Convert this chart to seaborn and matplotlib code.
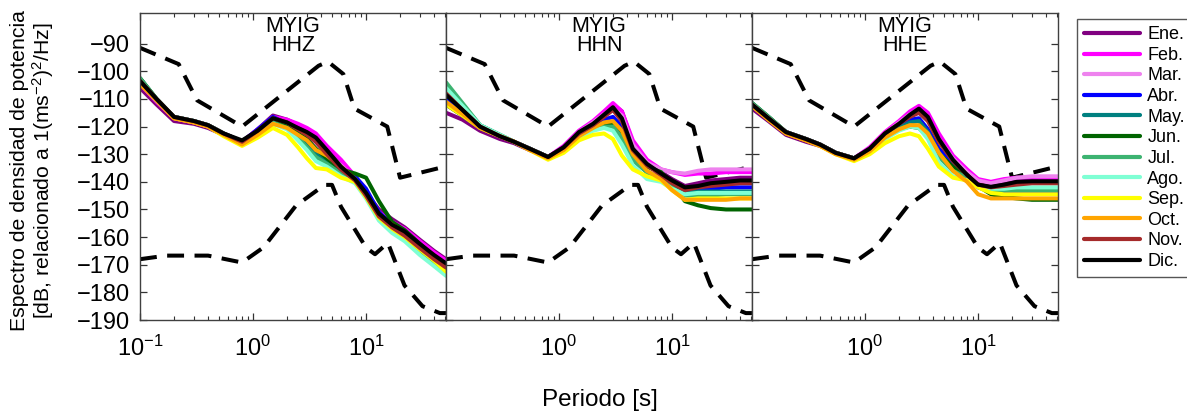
import numpy as np
import pandas as pd
import matplotlib
matplotlib.use("Agg")
import matplotlib.pyplot as plt
import seaborn as sns
from matplotlib.lines import Line2D
from matplotlib.ticker import FixedLocator, LogLocator, NullFormatter, FuncFormatter

# ---------------- data ----------------
MONTHS = ["Ene.", "Feb.", "Mar.", "Abr.", "May.", "Jun.", "Jul.", "Ago.", "Sep.", "Oct.", "Nov.", "Dic."]
COLORS = ["#800080", "#ff00ff", "#ee82ee", "#0000ff", "#008080", "#006400",
          "#3cb371", "#7fffd4", "#ffff00", "#ffa500", "#a52a2a", "#000000"]
COMPONENTS = ["HHZ", "HHN", "HHE"]
STATION = "MYIG"

PERIODS = [0.1, 0.14, 0.2, 0.3, 0.4, 0.55, 0.8, 1.1, 1.5, 2.0, 2.5, 3.0, 3.6, 4.5,
           6, 8, 10, 13, 17, 22, 30, 40, 51]

# HHZ
HHZ_ENE = [-106, -112, -118, -119, -120.5, -123, -125.5, -121, -116, -117.5, -119.5, -121, -123, -127.5, -133, -138.5, -144, -150, -153.5, -156.5, -161, -165, -168]
HHZ_FEB = [-104.5, -111, -117, -118.5, -120, -123, -125.5, -121, -116.5, -117.5, -119, -120.5, -122.5, -127, -132, -138, -144, -151, -154.5, -157, -161.5, -165.5, -168.5]
HHZ_MAR = [-104, -110.5, -116.5, -118, -119.5, -122.5, -125.5, -121.5, -117, -119, -121.5, -123.5, -126, -129.5, -134, -139, -144.5, -151.5, -155.5, -158.5, -163, -167, -170]
HHZ_ABR = [-104, -110.5, -116.5, -118, -119.5, -122.5, -125.5, -121, -116.5, -119, -122.5, -125.5, -128.5, -131.5, -135, -138, -142.5, -151, -155.5, -158, -163, -167, -170.5]
HHZ_MAY = [-102.5, -110, -116.5, -118, -119.5, -122.5, -125.5, -122, -118, -120, -123.5, -126.5, -129.5, -132.5, -136, -139, -145, -152.5, -156.5, -159.5, -164, -168, -171.5]
HHZ_JUN = [-102.5, -110, -116.5, -118, -119.5, -122.5, -125.5, -122, -118, -120, -122.5, -124.5, -128, -131.5, -135.5, -137, -138.5, -147, -154.5, -157.5, -162.5, -167, -170.5]
HHZ_JUL = [-102.5, -110, -116.5, -118, -119.5, -122.5, -126, -122.5, -118.5, -120.5, -124, -127.5, -131, -133.5, -137, -139.5, -145, -153, -157, -160, -165, -169, -172.5]
HHZ_AGO = [-104, -110.5, -116.5, -118, -119.5, -122.5, -126, -123, -119, -121, -125, -128.5, -132.5, -134.5, -138, -140.5, -146, -154, -158.5, -161.5, -166.5, -170.5, -174]
HHZ_SEP = [-104.5, -110.5, -117, -118.5, -120, -123.5, -127, -124, -120.5, -123, -127.5, -131.5, -135, -135.5, -138.5, -140, -145.5, -153, -157, -160, -164.5, -168.5, -172.5]
HHZ_OCT = [-104.5, -110.5, -117, -118.5, -120, -123, -126.5, -123, -119, -120.5, -123, -125, -128.5, -130.5, -134.5, -139, -145, -152, -155.5, -158.5, -163, -167.5, -171]
HHZ_NOV = [-103.5, -110, -116.5, -118, -119.5, -122.5, -125.5, -121.5, -117, -118.5, -121, -123, -125.5, -130, -135.5, -139.5, -145, -152.5, -156.5, -159.5, -164, -168, -171]
HHZ_DIC = [-103.5, -110, -116.5, -118, -119.5, -122.5, -125, -121.5, -117, -118.5, -120.5, -122, -124, -128.5, -134.5, -139, -144, -151.5, -155.5, -158, -162.5, -166.5, -169.5]

# HHN
HHN_ENE = [-115, -117.5, -121.5, -124.5, -126, -128.5, -131, -127.5, -122, -118.5, -115, -112, -114.5, -126, -132.5, -136.5, -139, -141.5, -140.5, -139.5, -139, -138.5, -138.5]
HHN_FEB = [-112, -116, -120.5, -123.5, -125.5, -128, -131, -127, -121.5, -118, -114.5, -111.5, -114.5, -125, -132, -135.5, -136.5, -137.5, -137, -137, -136.5, -136.5, -136.5]
HHN_MAR = [-112, -115.5, -120.5, -123.5, -125.5, -128, -131, -127.5, -122, -118.5, -115.5, -113.5, -116, -126.5, -133, -135.5, -136.5, -137, -136, -135.5, -135.5, -135.5, -135.5]
HHN_ABR = [-110, -115, -120.5, -123.5, -125.5, -128, -131, -127.5, -122.5, -119.5, -117.5, -116.5, -120, -129.5, -134, -137, -140.5, -143, -142.5, -142.5, -142, -142, -142]
HHN_MAY = [-105, -112, -119.5, -123, -125.5, -128, -131, -128, -123.5, -121, -119.5, -119.5, -124, -132, -136.5, -138.5, -141, -144, -143.5, -143.5, -143.5, -143.5, -143.5]
HHN_JUN = [-112, -116, -120.5, -123.5, -125.5, -128, -131, -128, -123.5, -121, -119.5, -119, -122.5, -130, -134.5, -136.5, -140.5, -147, -148.5, -149.5, -150, -150, -150]
HHN_JUL = [-104, -111.5, -119.5, -123, -125.5, -128, -131, -128, -123.5, -121, -120, -120, -124, -132, -136.5, -139, -142, -145, -145, -145, -144.5, -144.5, -144.5]
HHN_AGO = [-106, -112.5, -119.5, -123, -125.5, -128, -131, -128.5, -124, -121.5, -120.5, -121.5, -126.5, -134, -139, -140, -142.5, -144.5, -144, -144, -144, -144, -144]
HHN_SEP = [-112, -116, -120.5, -123.5, -125.5, -128.5, -132, -129.5, -125, -123, -122.5, -124.5, -130.5, -135.5, -138, -139.5, -143, -146.5, -146, -146, -146, -146, -146]
HHN_OCT = [-111, -115.5, -120.5, -123.5, -125.5, -128.5, -131.5, -128.5, -123.5, -120.5, -118.5, -118, -121.5, -130, -136, -139, -143, -146.5, -146.5, -146.5, -146.5, -146, -146]
HHN_NOV = [-108, -114, -120, -123.5, -125.5, -128, -131, -127.5, -122.5, -119.5, -116.5, -114, -118, -128.5, -134, -137.5, -140.5, -143, -142, -141.5, -141, -140.5, -140.5]
HHN_DIC = [-108.5, -114, -120, -123.5, -125.5, -128, -131, -127.5, -122, -119, -115.7, -113, -117, -128, -133.5, -137, -139.5, -142, -141.5, -140.5, -140, -139.5, -139.5]

# HHE
HHE_ENE = [-113.5, -118, -123, -125.5, -127, -129.5, -131.5, -128, -122.5, -118.5, -115, -113, -116, -124, -131.5, -137, -140, -141, -140.5, -140, -139.5, -139.5, -139.5]
HHE_FEB = [-112.5, -117, -122, -124.5, -126.5, -129.5, -131.5, -127.5, -122, -118, -114.5, -112.5, -115, -122.5, -130.5, -135.5, -139, -140, -139, -138.5, -138.5, -138.5, -138.5]
HHE_MAR = [-112, -117, -122, -124.5, -126.5, -129.5, -131.5, -128, -122.5, -118.5, -115.5, -114, -117, -124.5, -131.5, -136.5, -139.5, -140.5, -139.5, -138.5, -138, -138, -138]
HHE_ABR = [-112, -117, -122, -124.5, -126.5, -129.5, -131.5, -128, -123, -119.5, -117.5, -117, -121, -128, -133.5, -137.5, -142, -143.5, -144, -144, -143.5, -143.5, -143.5]
HHE_MAY = [-111.5, -116.5, -122, -124.5, -126.5, -129.5, -131.5, -128.5, -123.5, -120.5, -118.5, -118, -122, -129.5, -135, -138, -141.5, -143, -143, -142.5, -142.5, -142.5, -142.5]
HHE_JUN = [-111.5, -116.5, -122, -124.5, -126.5, -129.5, -131.5, -128.5, -124, -121, -120, -120.5, -123.5, -130, -134.5, -137.5, -141.5, -144.5, -145.5, -146, -146.5, -146.5, -146.5]
HHE_JUL = [-111.5, -116.5, -122, -124.5, -126.5, -129.5, -131.5, -128.5, -124, -121, -119.5, -120, -124, -131, -136, -138.5, -141.5, -143, -143, -143, -143, -143, -143]
HHE_AGO = [-112, -117, -122, -124.5, -126.5, -129.5, -131.5, -129, -124.5, -121.5, -120, -120.5, -124.5, -133, -138, -139.5, -141.5, -142.5, -142.5, -142, -142, -142, -142]
HHE_SEP = [-112.5, -117.5, -122.5, -125, -127, -130, -132.5, -130, -126, -123.5, -122.5, -123.5, -128, -134.5, -138.5, -139.5, -142, -144, -144.5, -144.5, -144.5, -144.5, -144.5]
HHE_OCT = [-112.5, -117.5, -122.5, -125, -127, -130, -132, -129, -124, -121, -119.5, -119.5, -122.5, -129.5, -136, -140, -144.5, -146, -146, -146, -146, -146, -146]
HHE_NOV = [-112, -117, -122, -124.5, -126.5, -129.5, -131.5, -128, -122.5, -119, -116.5, -115, -118, -125.5, -132.5, -137.5, -141, -142, -141.5, -141, -140.5, -140.5, -140.5]
HHE_DIC = [-112, -117, -122, -124.5, -126.5, -129.5, -131.5, -128, -122.5, -119, -115.7, -113.5, -116.5, -124.5, -132, -137.5, -141, -141.8, -141, -140, -139.8, -139.8, -139.8]

# Peterson noise models (breakpoints)
NHNM_PERIOD = [0.1, 0.22, 0.32, 0.8, 3.8, 4.6, 6.3, 7.9, 15.4, 20, 51]
NHNM_DB = [-91.5, -97.4, -110.5, -120.0, -98.0, -96.5, -101.0, -113.5, -120.0, -138.5, -134.4]
NLNM_PERIOD = [0.1, 0.17, 0.4, 0.8, 1.24, 2.4, 4.3, 5.0, 6.0, 10, 12, 15.6, 21.9, 31.6, 45, 51]
NLNM_DB = [-168.0, -166.7, -166.7, -169.2, -163.7, -148.6, -141.1, -141.1, -149.0, -163.8, -166.2, -162.1, -177.5, -185.0, -187.5, -187.5]

SERIES = {
    "HHZ": [HHZ_ENE, HHZ_FEB, HHZ_MAR, HHZ_ABR, HHZ_MAY, HHZ_JUN, HHZ_JUL, HHZ_AGO, HHZ_SEP, HHZ_OCT, HHZ_NOV, HHZ_DIC],
    "HHN": [HHN_ENE, HHN_FEB, HHN_MAR, HHN_ABR, HHN_MAY, HHN_JUN, HHN_JUL, HHN_AGO, HHN_SEP, HHN_OCT, HHN_NOV, HHN_DIC],
    "HHE": [HHE_ENE, HHE_FEB, HHE_MAR, HHE_ABR, HHE_MAY, HHE_JUN, HHE_JUL, HHE_AGO, HHE_SEP, HHE_OCT, HHE_NOV, HHE_DIC],
}

rows = []
for comp in COMPONENTS:
    for month, vals in zip(MONTHS, SERIES[comp]):
        for p, v in zip(PERIODS, vals):
            rows.append((comp, month, p, v))
df = pd.DataFrame(rows, columns=["comp", "month", "period", "psd"])
noise_hi = pd.DataFrame({"period": NHNM_PERIOD, "psd": NHNM_DB})
noise_lo = pd.DataFrame({"period": NLNM_PERIOD, "psd": NLNM_DB})

# ---------------- style ----------------
sns.set_theme(style="ticks")
plt.rcParams["font.family"] = ["Liberation Sans", "DejaVu Sans"]
plt.rcParams["mathtext.fontset"] = "custom"
plt.rcParams["mathtext.rm"] = "Liberation Sans"
plt.rcParams["mathtext.it"] = "Liberation Sans:italic"
plt.rcParams["mathtext.bf"] = "Liberation Sans:bold"
plt.rcParams["text.color"] = "black"
plt.rcParams["axes.labelcolor"] = "black"
plt.rcParams["xtick.color"] = "black"
plt.rcParams["ytick.color"] = "black"

palette = dict(zip(MONTHS, COLORS))

W, H = 1187, 415
fig = plt.figure(figsize=(W / 100, H / 100), dpi=100)
lefts = [140, 446, 752]
ax_w = 306
ax_top, ax_bot = 13, 320

axes = []
for i, comp in enumerate(COMPONENTS):
    ax = fig.add_axes([lefts[i] / W, 1 - ax_bot / H, ax_w / W, (ax_bot - ax_top) / H])
    axes.append(ax)
    ax.set_xscale("log")

    for nd in (noise_hi, noise_lo):
        sns.lineplot(data=nd, x="period", y="psd", color="black", linewidth=2.9,
                     estimator=None, ax=ax, zorder=1)
        ax.lines[-1].set_dashes((4.2, 2.6))
        ax.lines[-1].set_dash_capstyle("butt")

    sub = df[df["comp"] == comp]
    sns.lineplot(data=sub, x="period", y="psd", hue="month", hue_order=MONTHS,
                 palette=palette, estimator=None, linewidth=2.9, legend=False,
                 ax=ax, zorder=2)
    for ln in ax.lines[2:]:
        ln.set_solid_joinstyle("round")
        ln.set_solid_capstyle("round")

    ax.set_xlim(0.1, 51)
    ax.set_ylim(-190, -78.9)
    ax.set_xlabel("")
    ax.set_ylabel("")
    ax.yaxis.set_major_locator(FixedLocator(np.arange(-190, -89, 10)))
    if i == 0:
        ax.xaxis.set_major_locator(FixedLocator([0.1, 1, 10]))
    else:
        ax.xaxis.set_major_locator(FixedLocator([1, 10]))
    ax.xaxis.set_minor_locator(LogLocator(base=10, subs=np.arange(2, 10)))
    ax.xaxis.set_minor_formatter(NullFormatter())
    ax.xaxis.set_major_formatter(FuncFormatter(
        lambda v, pos: r"$\mathdefault{10^{%d}}$" % int(round(np.log10(v)))))
    ax.tick_params(which="both", direction="in", top=True, right=True,
                   colors="#333333", labelcolor="black", labelsize=17)
    ax.tick_params(which="major", length=5, width=0.9)
    ax.tick_params(which="minor", length=3, width=0.8)
    ax.tick_params(axis="x", pad=11)
    ax.tick_params(axis="y", pad=7)
    if i > 0:
        ax.tick_params(axis="y", labelleft=False)
    for s in ax.spines.values():
        s.set_color("#404040")
        s.set_linewidth(1.0)

    ax.text(0.5, 0.99, f"{STATION}\n{comp}", transform=ax.transAxes, ha="center",
            va="top", fontsize=15.5, linespacing=0.85, color="black", zorder=5)

# labels
fig.text(33 / W, 1 - 171 / H,
         "Espectro de densidad de potencia\n[dB, relacionado a 1(ms$^{-2}$)$^{2}$/Hz]",
         rotation=90, ha="center", va="center", fontsize=15.3, color="black",
         multialignment="center", linespacing=1.05)
fig.text(600 / W, 1 - 400 / H, "Periodo [s]", ha="center", va="center",
         fontsize=17.5, color="black")

# legend
handles = [Line2D([0], [0], color=c, lw=3) for c in COLORS]
leg = fig.legend(handles, MONTHS, loc="upper left",
                 bbox_to_anchor=(1077 / W, 1 - 19 / H), fontsize=13,
                 handlelength=3.1, handletextpad=0.4, labelspacing=0.2,
                 borderpad=0.4, borderaxespad=0, fancybox=False,
                 frameon=True, framealpha=1)
for t in leg.get_texts():
    t.set_color("black")
leg.get_frame().set_edgecolor("#555555")
leg.get_frame().set_linewidth(1.0)

fig.savefig("out.png", dpi=100)
